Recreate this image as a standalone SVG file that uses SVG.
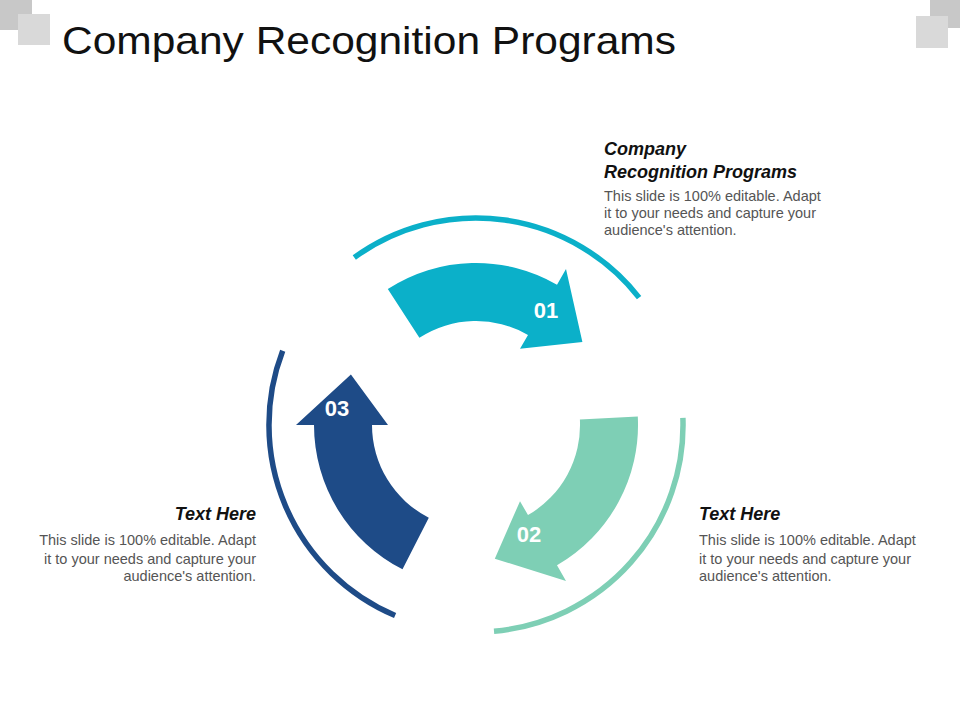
<svg xmlns="http://www.w3.org/2000/svg" width="960" height="720" viewBox="0 0 960 720">
<style>
.h{font-family:"Liberation Sans",Arial,sans-serif;font-weight:bold;font-style:italic;font-size:18px;fill:#111}
.b{font-family:"Liberation Sans",Arial,sans-serif;font-size:14.5px;fill:#555}
.n{font-family:"Liberation Sans",Arial,sans-serif;font-weight:bold;font-size:22px;fill:#fff}
.ring{fill:none;stroke-width:5.5}
</style>
<rect width="960" height="720" fill="#fff"/>
<rect x="0" y="0" width="32" height="30" fill="#c8c8c8"/>
<rect x="18" y="14" width="32" height="31" fill="#d9d9d9"/>
<rect x="930" y="0" width="30" height="28" fill="#c8c8c8"/>
<rect x="916" y="16" width="32" height="32" fill="#d9d9d9"/>
<text x="62" y="54" font-family="Liberation Sans, Arial, sans-serif" font-size="39" textLength="614" lengthAdjust="spacingAndGlyphs" fill="#111">Company Recognition Programs</text>
<g id="connectors">
<path class="ring" stroke="#0bb0c9" d="M354.3,257.5 A207,207 0 0 1 639.1,297.6"/>
<path class="ring" stroke="#7ecfb5" d="M682.9,417.8 A207,207 0 0 1 494,631.2"/>
<path class="ring" stroke="#1e4b87" d="M395.1,615.5 A207,207 0 0 1 282.7,350.8"/>
</g>
<g id="node1">
<path fill="#0bb0c9" d="M387.8,289.1 A162,162 0 0 1 557,284.7 L566,269.1 L582.4,341.9 L520,348.8 L528,334.9 A104,104 0 0 0 419.4,337.8 Z"/>
<text class="n" x="546" y="318" text-anchor="middle">01</text>
<text class="h" x="604" y="155">Company</text>
<text class="h" x="604" y="178">Recognition Programs</text>
<text class="b" x="604" y="201">This slide is 100% editable. Adapt</text>
<text class="b" x="604" y="218">it to your needs and capture your</text>
<text class="b" x="604" y="235">audience's attention.</text>
</g>
<g id="node2">
<path fill="#7ecfb5" d="M637.8,416.5 A162,162 0 0 1 557,565.3 L566,580.9 L494.8,558.7 L520,501.2 L528,515.1 A104,104 0 0 0 579.9,419.6 Z"/>
<text class="n" x="529" y="542" text-anchor="middle">02</text>
<text class="h" x="699" y="520">Text Here</text>
<text class="b" x="699" y="545">This slide is 100% editable. Adapt</text>
<text class="b" x="699" y="564">it to your needs and capture your</text>
<text class="b" x="699" y="581">audience's attention.</text>
</g>
<g id="node3">
<path fill="#1e4b87" d="M402.5,569.3 A162,162 0 0 1 314,425 L296,425 L350.9,374.4 L388,425 L372,425 A104,104 0 0 0 428.8,517.7 Z"/>
<text class="n" x="337" y="416" text-anchor="middle">03</text>
<text class="h" x="256" y="520" text-anchor="end">Text Here</text>
<text class="b" x="256" y="545" text-anchor="end">This slide is 100% editable. Adapt</text>
<text class="b" x="256" y="564" text-anchor="end">it to your needs and capture your</text>
<text class="b" x="256" y="581" text-anchor="end">audience's attention.</text>
</g>
</svg>
